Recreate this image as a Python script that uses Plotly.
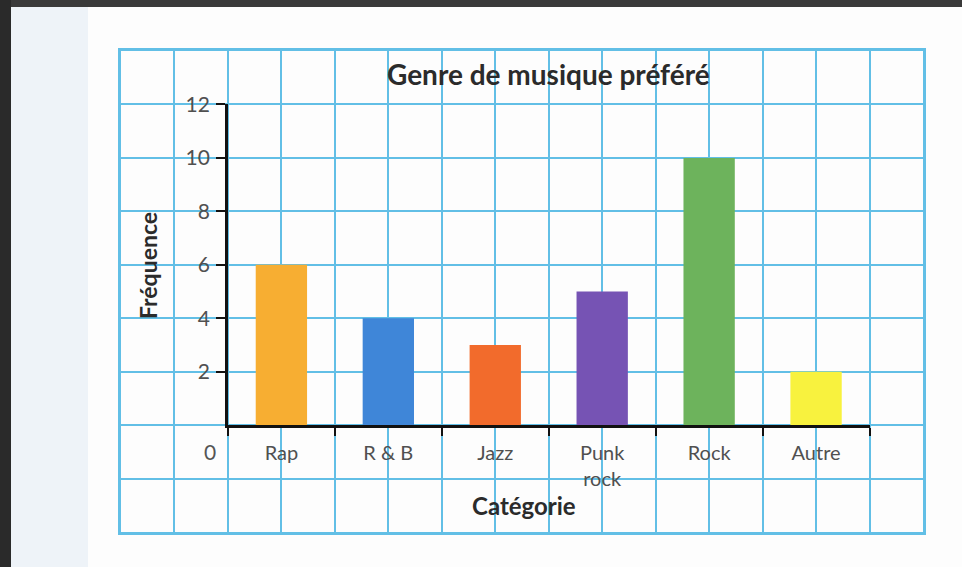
import plotly.graph_objects as go

categories = ["Rap", "R & B", "Jazz", "Punk<br>rock", "Rock", "Autre"]
frequencies = [6, 4, 3, 5, 10, 2]
bar_colors = ["#f7ae32", "#3f86d8", "#f26b2c", "#7653b4", "#6db35c", "#f8f23e"]
y_ticks = [2, 4, 6, 8, 10, 12]

W, H = 962, 567
L, R, T, B = 121, 39, 51, 35
PW, PH = W - L - R, H - T - B


def px_x(px):
    return (px - L) / PW


def px_y(py):
    return (H - B - py) / PH


GRID = "#62bfe6"
FONT = "Lato"

fig = go.Figure()
# empty trace to carry the grid axes
fig.add_trace(go.Scatter(x=[], y=[], xaxis="x", yaxis="y", showlegend=False,
                         hoverinfo="skip"))
fig.add_trace(go.Bar(x=categories, y=frequencies, marker_color=bar_colors,
                     marker_line_width=0, width=0.48, xaxis="x2", yaxis="y2",
                     showlegend=False))

shapes = [
    dict(type="rect", xref="paper", yref="paper", x0=px_x(11), x1=px_x(980),
         y0=px_y(7), y1=px_y(-10), fillcolor="#3a3a3a", line_width=0,
         layer="below"),
    dict(type="rect", xref="paper", yref="paper", x0=px_x(11), x1=px_x(88),
         y0=px_y(580), y1=px_y(7), fillcolor="#eef3f8", line_width=0,
         layer="below"),
    dict(type="rect", xref="paper", yref="paper", x0=px_x(88), x1=px_x(980),
         y0=px_y(580), y1=px_y(7), fillcolor="#fdfdfd", line_width=0,
         layer="below"),
]

annotations = [
    dict(text="<b>Genre de musique préféré</b>", xref="paper", yref="paper",
         x=px_x(548), y=px_y(74), xanchor="center", yanchor="middle",
         showarrow=False, font=dict(family=FONT, size=28, color="#2b2b2b")),
    dict(text="<b>Fréquence</b>", xref="paper", yref="paper",
         x=px_x(148), y=px_y(266), xanchor="center", yanchor="middle",
         showarrow=False, textangle=-90,
         font=dict(family=FONT, size=23, color="#2b2b2b")),
    dict(text="<b>Catégorie</b>", xref="paper", yref="paper",
         x=px_x(524), y=px_y(505), xanchor="center", yanchor="middle",
         showarrow=False, font=dict(family=FONT, size=24, color="#2b2b2b")),
    dict(text="0", xref="x2 domain", yref="y2", x=0, y=0, xanchor="right",
         yanchor="middle", xshift=-10, yshift=-26, showarrow=False,
         font=dict(family=FONT, size=21, color="#555555")),
]

fig.update_layout(
    width=W, height=H,
    margin=dict(l=L, r=R, t=T, b=B),
    paper_bgcolor="#2a2a2a",
    plot_bgcolor="rgba(0,0,0,0)",
    shapes=shapes,
    annotations=annotations,
    xaxis=dict(range=[0, 15], dtick=1, tick0=0, showgrid=True, gridcolor=GRID,
               gridwidth=2, showticklabels=False, zeroline=False, showline=True,
               linecolor=GRID, linewidth=2.5, mirror=True, fixedrange=True,
               ticks=""),
    yaxis=dict(range=[0, 9], dtick=1, tick0=0, showgrid=True, gridcolor=GRID,
               gridwidth=2, showticklabels=False, zeroline=False, showline=True,
               linecolor=GRID, linewidth=2.5, mirror=True, fixedrange=True,
               ticks=""),
    xaxis2=dict(domain=[2 / 15, 14 / 15], anchor="y2", type="category",
                range=[-0.5, 5.5], tickson="boundaries", ticks="outside",
                ticklen=8, tickwidth=2, tickcolor="#111111", showline=True,
                linecolor="#111111", linewidth=2.5, showgrid=False,
                zeroline=False, ticklabelstandoff=8, fixedrange=True,
                tickfont=dict(family=FONT, size=20, color="#505050")),
    yaxis2=dict(domain=[2 / 9, 8 / 9], anchor="x2", range=[0, 12],
                tickvals=y_ticks, ticks="outside", ticklen=9, tickwidth=2,
                tickcolor="#111111", showline=True, linecolor="#111111",
                linewidth=2.5, showgrid=False, zeroline=False,
                ticklabelstandoff=2, fixedrange=True,
                tickfont=dict(family=FONT, size=21, color="#505050")),
)

fig.write_html("out.html", config={"displayModeBar": False},
               post_script="document.body.style.margin='0';"
                           "document.body.style.overflow='hidden';")
